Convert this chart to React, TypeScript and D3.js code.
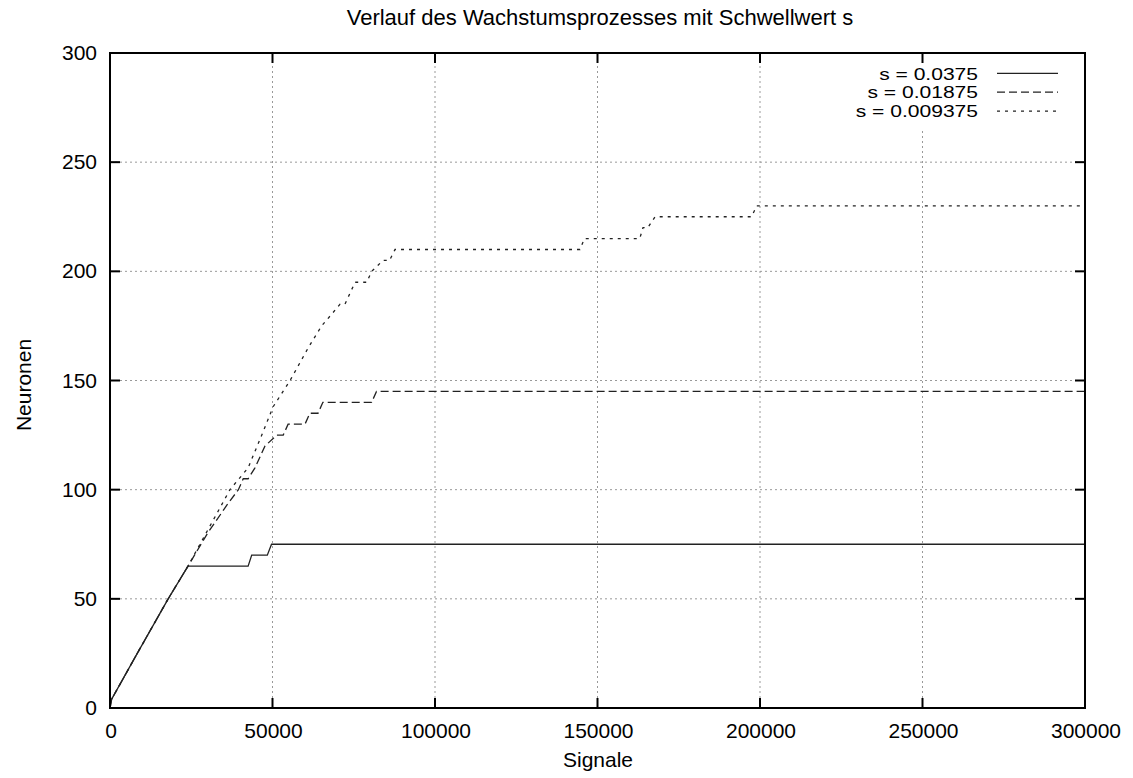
import * as d3 from "d3";

// Signale / Neuronen per Schwellwert
const xTicks = [0, 50000, 100000, 150000, 200000, 250000, 300000];
const yTicks = [0, 50, 100, 150, 200, 250, 300];

const s0375: [number, number][] = [
  [0, 0], [500, 4], [8000, 24], [17900, 50], [24000, 65], [24600, 65],
  [42500, 65], [43600, 70], [48400, 70], [49700, 75], [300000, 75],
];

const s01875: [number, number][] = [
  [0, 0], [500, 4], [8000, 24], [17900, 50], [24000, 65], [30000, 80],
  [36000, 93], [39500, 100], [41000, 105], [42500, 105], [44600, 110],
  [47700, 120], [51300, 125], [53300, 125], [54800, 130], [60000, 130],
  [61500, 135], [64000, 135], [65500, 140], [80500, 140], [82000, 145],
  [300000, 145],
];

const s009375: [number, number][] = [
  [0, 0], [500, 4], [8000, 24], [17900, 50], [24000, 65], [36900, 100],
  [42500, 110], [46700, 125], [50200, 138], [55400, 150], [61000, 165],
  [65100, 175], [68000, 180], [70800, 185], [72300, 185], [75400, 195],
  [79000, 195], [80500, 200], [84000, 205], [86000, 205], [87700, 210],
  [144600, 210], [146000, 215], [163000, 215], [164000, 220], [165500, 220],
  [167700, 225], [197400, 225], [199000, 230], [300000, 230],
];

const seriesLabels = ["s = 0.0375", "s = 0.01875", "s = 0.009375"];
const dashes = ["none", "8,4", "3,5"];

export default function App() {
  const width = 1133;
  const height = 778;
  const margin = { top: 53, right: 48, bottom: 70, left: 110 };

  const x = d3.scaleLinear()
    .domain([0, 300000])
    .range([margin.left, width - margin.right]);
  const y = d3.scaleLinear()
    .domain([0, 300])
    .range([height - margin.bottom, margin.top]);

  const line = d3.line<[number, number]>()
    .x(d => x(d[0]))
    .y(d => y(d[1]));

  const series = [s0375, s01875, s009375];
  const font = "'Liberation Sans', Arial, sans-serif";
  const x0 = x(0), x1 = x(300000), y0 = y(0), y1 = y(300);

  return (
    <svg width={width} height={height} style={{ position: "absolute", left: 0, top: 0 }}
      fontFamily={font} fontSize={21}>
      <rect width={width} height={height} fill="white" />
      <text x={600} y={25} textAnchor="middle" fontSize={22}>
        Verlauf des Wachstumsprozesses mit Schwellwert s
      </text>

      {/* grid */}
      <g stroke="#999" strokeWidth={1} strokeDasharray="2,3">
        {xTicks.slice(1, -1).map(t => (
          <line key={t} x1={x(t)} x2={x(t)} y1={y0} y2={t === 250000 ? 128 : y1} />
        ))}
        {yTicks.slice(1, -1).map(t => (
          <line key={t} x1={x0} x2={x1} y1={y(t)} y2={y(t)} />
        ))}
      </g>

      {/* series */}
      {series.map((s, i) => (
        <path key={i} d={line(s) ?? ""} fill="none" stroke="#222"
          strokeWidth={1.3} strokeDasharray={dashes[i]} />
      ))}

      {/* frame and ticks */}
      <rect x={x0} y={y1} width={x1 - x0} height={y0 - y1} fill="none" stroke="#000" strokeWidth={2} />
      <g stroke="#000" strokeWidth={2}>
        {xTicks.map(t => (
          <g key={t}>
            <line x1={x(t)} x2={x(t)} y1={y0} y2={y0 - 10} />
            <line x1={x(t)} x2={x(t)} y1={y1} y2={y1 + 10} />
          </g>
        ))}
        {yTicks.map(t => (
          <g key={t}>
            <line x1={x0} x2={x0 + 10} y1={y(t)} y2={y(t)} />
            <line x1={x1} x2={x1 - 10} y1={y(t)} y2={y(t)} />
          </g>
        ))}
      </g>

      {/* tick labels */}
      {xTicks.map(t => (
        <text key={t} x={x(t) + 1} y={y0 + 30} textAnchor="middle">{t}</text>
      ))}
      {yTicks.map(t => (
        <text key={t} x={x0 - 13} y={y(t) + 7} textAnchor="end">{t}</text>
      ))}

      <text x={598} y={767} textAnchor="middle">Signale</text>
      <text transform="translate(31,385) rotate(-90)" textAnchor="middle">Neuronen</text>

      {/* legend: rows are tight, so a smaller font is widened */}
      {seriesLabels.map((l, i) => (
        <g key={l}>
          <text transform={`translate(978,${79.5 + i * 18.9}) scale(1.3,1.05)`}
            textAnchor="end" fontSize={16.2}>{l}</text>
          <line x1={997} x2={1058} y1={73.3 + i * 18.9} y2={73.3 + i * 18.9}
            stroke="#222" strokeWidth={1.3} strokeDasharray={dashes[i]} />
        </g>
      ))}
    </svg>
  );
}
